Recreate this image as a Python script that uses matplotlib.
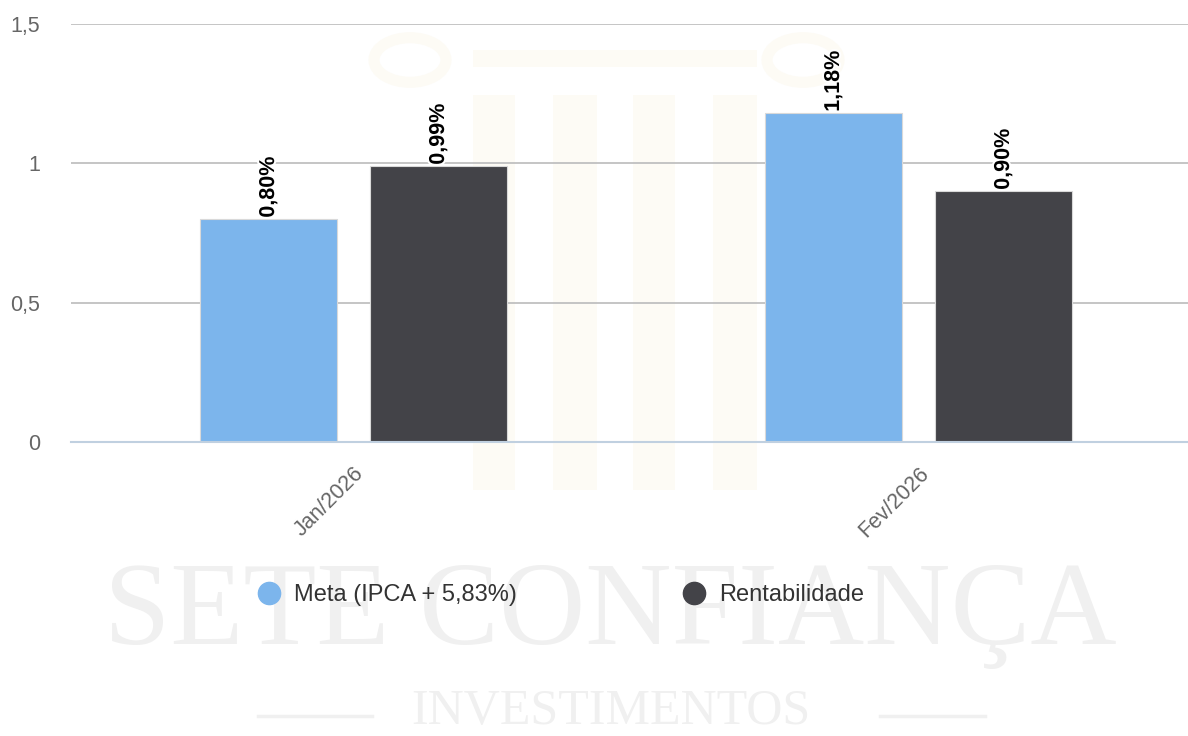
import numpy as np
import matplotlib
matplotlib.use('Agg')
import matplotlib.pyplot as plt
import matplotlib.patheffects as pe
from matplotlib.lines import Line2D
from matplotlib.patches import Rectangle, Circle

# Data
categories = ['Jan/2026', 'Fev/2026']
series_names = ['Meta (IPCA + 5,83%)', 'Rentabilidade']
meta = [0.80, 1.18]
rentabilidade = [0.99, 0.90]
series_values = [meta, rentabilidade]
series_colors = ['#7cb5ec', '#434348']
yticks = [0, 0.5, 1, 1.5]
ytick_labels = ['0', '0,5', '1', '1,5']

W, H = 1188, 736
plt.rcParams['font.family'] = ['Liberation Sans', 'DejaVu Sans']

fig = plt.figure(figsize=(W / 100, H / 100), dpi=100)
fig.patch.set_facecolor('white')

# pixel -> figure fraction helpers
def fx(px):
	return px / W

def fy(py):
	return 1 - py / H

# faint watermark (column logo + company name)
cream = '#fdfbf5'
for x0, x1 in [(473, 515), (553, 597), (633, 675), (713, 757)]:
	fig.add_artist(Rectangle((fx(x0), fy(490)), fx(x1 - x0), (490 - 95) / H,
		transform=fig.transFigure, facecolor=cream, edgecolor='none', zorder=-3))
fig.add_artist(Rectangle((fx(473), fy(67)), fx(757 - 473), 17 / H,
	transform=fig.transFigure, facecolor=cream, edgecolor='none', zorder=-3))
for cx in [410, 803]:
	fig.add_artist(Circle((fx(cx), fy(60)), fx(36), transform=fig.transFigure,
		facecolor='none', edgecolor=cream, linewidth=8, zorder=-3))

fig.text(fx(610), fy(615), 'SETE CONFIANÇA', family='Liberation Serif', fontsize=86,
	color='#f0f0f0', ha='center', va='center', zorder=-2)
fig.text(fx(611), fy(712), 'INVESTIMENTOS', family='Liberation Serif', fontsize=36,
	color='#f0f0f0', ha='center', va='center', zorder=-2)
for x0, x1 in [(258, 372), (880, 985)]:
	fig.add_artist(Line2D([fx(x0), fx(x1)], [fy(716), fy(716)], transform=fig.transFigure,
		color='#f0f0f0', linewidth=2.5, zorder=-2))

# plot area
ax = fig.add_axes([fx(71), fy(442), fx(1201 - 71), (442 - 24) / H])
ax.patch.set_alpha(0)

x = np.arange(len(categories))
width = 0.2425
offsets = [-0.1504, 0.1504]

for vals, off, col, name in zip(series_values, offsets, series_colors, series_names):
	bars = ax.bar(x + off, vals, width, color=col, edgecolor='#d9d9d9', linewidth=0.8,
		label=name, zorder=3)
	for b, v in zip(bars, vals):
		ax.annotate(('%.2f' % v).replace('.', ',') + '%',
			(b.get_x() + b.get_width() / 2, v), xytext=(0, 1), textcoords='offset points',
			rotation=90, ha='center', va='bottom', fontsize=15.5, fontweight='bold',
			color='black', zorder=5,
			path_effects=[pe.withStroke(linewidth=3, foreground='white')])

ax.set_xlim(-0.5, 1.5)
ax.set_ylim(0, 1.5)
ax.set_yticks(yticks)
ax.set_yticklabels(ytick_labels, fontsize=15.5, color='#666666')
ax.set_xticks(x)
ax.set_xticklabels(categories, rotation=45, ha='right', va='top', rotation_mode='anchor',
	fontsize=15.5, color='#666666')
ax.tick_params(axis='y', length=0, pad=22)
ax.tick_params(axis='x', length=0, pad=15)

for s in ['top', 'right', 'left']:
	ax.spines[s].set_visible(False)
ax.spines['bottom'].set_color('#c0d0e0')
ax.spines['bottom'].set_linewidth(1.5)
ax.spines['bottom'].set_zorder(4)

ax.yaxis.grid(True, color='#c0c0c0', linewidth=1.3, zorder=0)
ax.set_axisbelow(True)

# legend with round markers
handles = [Line2D([0], [0], marker='o', linestyle='none', markersize=16,
	markerfacecolor=c, markeredgecolor=c) for c in series_colors]
fig.legend(handles, series_names, loc='center left', bbox_to_anchor=(fx(255), fy(595)),
	ncol=2, frameon=False, fontsize=17, labelcolor='#333333', handlelength=1.2,
	handletextpad=0.45, columnspacing=6.9, borderpad=0, borderaxespad=0)

fig.savefig('out.png', dpi=100, facecolor='white')
